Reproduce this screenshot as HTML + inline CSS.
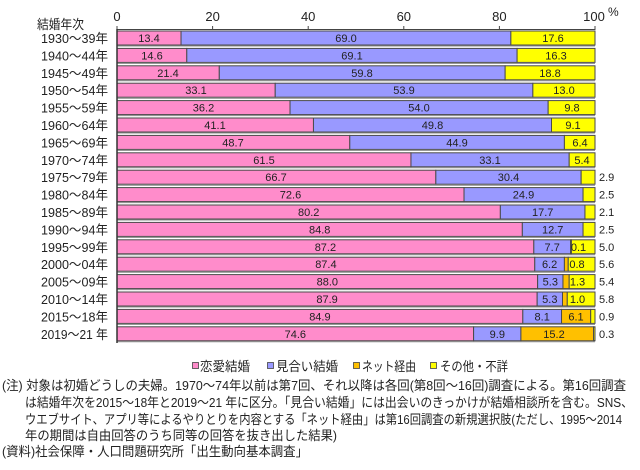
<!DOCTYPE html>
<html><head><meta charset="utf-8"><style>
html,body{margin:0;padding:0;background:#fff;}
svg{display:block;}
text{font-family:"Liberation Sans","Noto Sans CJK JP",sans-serif;}
</style></head><body>
<svg width="640" height="470" viewBox="0 0 640 470" xmlns="http://www.w3.org/2000/svg">
<rect width="640" height="470" fill="#fff"/>
<!-- top axis -->
<g stroke="#444" stroke-width="1">
<line x1="117" y1="29.5" x2="595" y2="29.5"/>
<line x1="117" y1="26" x2="117" y2="30"/>
<line x1="212.6" y1="26" x2="212.6" y2="30"/>
<line x1="308.2" y1="26" x2="308.2" y2="30"/>
<line x1="403.8" y1="26" x2="403.8" y2="30"/>
<line x1="499.4" y1="26" x2="499.4" y2="30"/>
<line x1="595" y1="26" x2="595" y2="30"/>
</g>
<g font-size="13" fill="#222" text-anchor="middle">
<text x="117" y="21">0</text>
<text x="212.6" y="21">20</text>
<text x="308.2" y="21">40</text>
<text x="403.8" y="21">60</text>
<text x="499.4" y="21">80</text>
<text x="594" y="21">100</text>
</g>
<text x="608" y="16" font-size="12" fill="#222">%</text>
<text x="37" y="29" font-size="13" fill="#222" textLength="47" lengthAdjust="spacingAndGlyphs">結婚年次</text>

<!-- row labels -->
<g font-size="13" fill="#222">
<text x="41" y="43" textLength="67" lengthAdjust="spacingAndGlyphs">1930〜39年</text>
<text x="41" y="60.4" textLength="67" lengthAdjust="spacingAndGlyphs">1940〜44年</text>
<text x="41" y="77.8" textLength="67" lengthAdjust="spacingAndGlyphs">1945〜49年</text>
<text x="41" y="95.2" textLength="67" lengthAdjust="spacingAndGlyphs">1950〜54年</text>
<text x="41" y="112.6" textLength="67" lengthAdjust="spacingAndGlyphs">1955〜59年</text>
<text x="41" y="130" textLength="67" lengthAdjust="spacingAndGlyphs">1960〜64年</text>
<text x="41" y="147.4" textLength="67" lengthAdjust="spacingAndGlyphs">1965〜69年</text>
<text x="41" y="164.8" textLength="67" lengthAdjust="spacingAndGlyphs">1970〜74年</text>
<text x="41" y="182.2" textLength="67" lengthAdjust="spacingAndGlyphs">1975〜79年</text>
<text x="41" y="199.6" textLength="67" lengthAdjust="spacingAndGlyphs">1980〜84年</text>
<text x="41" y="217" textLength="67" lengthAdjust="spacingAndGlyphs">1985〜89年</text>
<text x="41" y="234.4" textLength="67" lengthAdjust="spacingAndGlyphs">1990〜94年</text>
<text x="41" y="251.8" textLength="67" lengthAdjust="spacingAndGlyphs">1995〜99年</text>
<text x="41" y="269.2" textLength="67" lengthAdjust="spacingAndGlyphs">2000〜04年</text>
<text x="41" y="286.6" textLength="67" lengthAdjust="spacingAndGlyphs">2005〜09年</text>
<text x="41" y="304" textLength="67" lengthAdjust="spacingAndGlyphs">2010〜14年</text>
<text x="41" y="321.4" textLength="67" lengthAdjust="spacingAndGlyphs">2015〜18年</text>
<text x="41" y="338.8" textLength="67" lengthAdjust="spacingAndGlyphs">2019〜21 年</text>
</g>

<!-- bars -->
<g stroke="#4a4a4a" stroke-width="1">
<!-- row0 y=31 -->
<rect x="117" y="31" width="64.05" height="14" fill="#FF8CCB"/>
<rect x="181.05" y="31" width="329.82" height="14" fill="#9999FF"/>
<rect x="510.87" y="31" width="84.13" height="14" fill="#FFFF00"/>
<!-- row1 -->
<rect x="117" y="48.4" width="69.79" height="14" fill="#FF8CCB"/>
<rect x="186.79" y="48.4" width="330.3" height="14" fill="#9999FF"/>
<rect x="517.09" y="48.4" width="77.91" height="14" fill="#FFFF00"/>
<!-- row2 -->
<rect x="117" y="65.8" width="102.29" height="14" fill="#FF8CCB"/>
<rect x="219.29" y="65.8" width="285.85" height="14" fill="#9999FF"/>
<rect x="505.14" y="65.8" width="89.86" height="14" fill="#FFFF00"/>
<!-- row3 -->
<rect x="117" y="83.2" width="158.22" height="14" fill="#FF8CCB"/>
<rect x="275.22" y="83.2" width="257.64" height="14" fill="#9999FF"/>
<rect x="532.86" y="83.2" width="62.14" height="14" fill="#FFFF00"/>
<!-- row4 -->
<rect x="117" y="100.6" width="173.04" height="14" fill="#FF8CCB"/>
<rect x="290.04" y="100.6" width="258.12" height="14" fill="#9999FF"/>
<rect x="548.16" y="100.6" width="46.84" height="14" fill="#FFFF00"/>
<!-- row5 -->
<rect x="117" y="118" width="196.46" height="14" fill="#FF8CCB"/>
<rect x="313.46" y="118" width="238.04" height="14" fill="#9999FF"/>
<rect x="551.5" y="118" width="43.5" height="14" fill="#FFFF00"/>
<!-- row6 -->
<rect x="117" y="135.4" width="232.79" height="14" fill="#FF8CCB"/>
<rect x="349.79" y="135.4" width="214.62" height="14" fill="#9999FF"/>
<rect x="564.41" y="135.4" width="30.59" height="14" fill="#FFFF00"/>
<!-- row7 -->
<rect x="117" y="152.8" width="293.97" height="14" fill="#FF8CCB"/>
<rect x="410.97" y="152.8" width="158.22" height="14" fill="#9999FF"/>
<rect x="569.19" y="152.8" width="25.81" height="14" fill="#FFFF00"/>
<!-- row8 -->
<rect x="117" y="170.2" width="318.83" height="14" fill="#FF8CCB"/>
<rect x="435.83" y="170.2" width="145.31" height="14" fill="#9999FF"/>
<rect x="581.14" y="170.2" width="13.86" height="14" fill="#FFFF00"/>
<!-- row9 -->
<rect x="117" y="187.6" width="347.03" height="14" fill="#FF8CCB"/>
<rect x="464.03" y="187.6" width="119.02" height="14" fill="#9999FF"/>
<rect x="583.05" y="187.6" width="11.95" height="14" fill="#FFFF00"/>
<!-- row10 -->
<rect x="117" y="205" width="383.36" height="14" fill="#FF8CCB"/>
<rect x="500.36" y="205" width="84.6" height="14" fill="#9999FF"/>
<rect x="584.96" y="205" width="10.04" height="14" fill="#FFFF00"/>
<!-- row11 -->
<rect x="117" y="222.4" width="405.34" height="14" fill="#FF8CCB"/>
<rect x="522.34" y="222.4" width="60.71" height="14" fill="#9999FF"/>
<rect x="583.05" y="222.4" width="11.95" height="14" fill="#FFFF00"/>
<!-- row12 -->
<rect x="117" y="239.8" width="416.82" height="14" fill="#FF8CCB"/>
<rect x="533.82" y="239.8" width="36.8" height="14" fill="#9999FF"/>
<rect x="570.62" y="239.8" width="0.8" height="14" fill="#FFC000"/>
<rect x="571.42" y="239.8" width="23.58" height="14" fill="#FFFF00"/>
<!-- row13 -->
<rect x="117" y="257.2" width="417.77" height="14" fill="#FF8CCB"/>
<rect x="534.77" y="257.2" width="29.64" height="14" fill="#9999FF"/>
<rect x="564.41" y="257.2" width="3.82" height="14" fill="#FFC000"/>
<rect x="568.23" y="257.2" width="26.77" height="14" fill="#FFFF00"/>
<!-- row14 -->
<rect x="117" y="274.6" width="420.64" height="14" fill="#FF8CCB"/>
<rect x="537.64" y="274.6" width="25.33" height="14" fill="#9999FF"/>
<rect x="562.97" y="274.6" width="6.22" height="14" fill="#FFC000"/>
<rect x="569.19" y="274.6" width="25.81" height="14" fill="#FFFF00"/>
<!-- row15 -->
<rect x="117" y="292" width="420.16" height="14" fill="#FF8CCB"/>
<rect x="537.16" y="292" width="25.34" height="14" fill="#9999FF"/>
<rect x="562.5" y="292" width="4.78" height="14" fill="#FFC000"/>
<rect x="567.28" y="292" width="27.72" height="14" fill="#FFFF00"/>
<!-- row16 -->
<rect x="117" y="309.4" width="405.82" height="14" fill="#FF8CCB"/>
<rect x="522.82" y="309.4" width="38.72" height="14" fill="#9999FF"/>
<rect x="561.54" y="309.4" width="29.16" height="14" fill="#FFC000"/>
<rect x="590.7" y="309.4" width="4.3" height="14" fill="#FFFF00"/>
<!-- row17 -->
<rect x="117" y="326.8" width="356.59" height="14" fill="#FF8CCB"/>
<rect x="473.59" y="326.8" width="47.32" height="14" fill="#9999FF"/>
<rect x="520.91" y="326.8" width="72.66" height="14" fill="#FFC000"/>
<rect x="593.57" y="326.8" width="1.43" height="14" fill="#FFFF00"/>
</g>
<!-- bar shadows -->
<g stroke="#8a8a8a" stroke-width="1">
<line x1="117" y1="46" x2="595" y2="46"/>
<line x1="117" y1="63.4" x2="595" y2="63.4"/>
<line x1="117" y1="80.8" x2="595" y2="80.8"/>
<line x1="117" y1="98.2" x2="595" y2="98.2"/>
<line x1="117" y1="115.6" x2="595" y2="115.6"/>
<line x1="117" y1="133" x2="595" y2="133"/>
<line x1="117" y1="150.4" x2="595" y2="150.4"/>
<line x1="117" y1="167.8" x2="595" y2="167.8"/>
<line x1="117" y1="185.2" x2="595" y2="185.2"/>
<line x1="117" y1="202.6" x2="595" y2="202.6"/>
<line x1="117" y1="220" x2="595" y2="220"/>
<line x1="117" y1="237.4" x2="595" y2="237.4"/>
<line x1="117" y1="254.8" x2="595" y2="254.8"/>
<line x1="117" y1="272.2" x2="595" y2="272.2"/>
<line x1="117" y1="289.6" x2="595" y2="289.6"/>
<line x1="117" y1="307" x2="595" y2="307"/>
<line x1="117" y1="324.4" x2="595" y2="324.4"/>
<line x1="117" y1="341.8" x2="595" y2="341.8"/>
</g>
<!-- left axis -->
<line x1="117" y1="29" x2="117" y2="343" stroke="#333" stroke-width="1.5"/>

<!-- value labels -->
<g font-size="11" fill="#222" text-anchor="middle">
<text x="149" y="42">13.4</text><text x="346" y="42">69.0</text><text x="553" y="42">17.6</text>
<text x="152" y="59.4">14.6</text><text x="352" y="59.4">69.1</text><text x="556" y="59.4">16.3</text>
<text x="168" y="76.8">21.4</text><text x="362" y="76.8">59.8</text><text x="550" y="76.8">18.8</text>
<text x="196" y="94.2">33.1</text><text x="404" y="94.2">53.9</text><text x="564" y="94.2">13.0</text>
<text x="203.5" y="111.6">36.2</text><text x="419" y="111.6">54.0</text><text x="572" y="111.6">9.8</text>
<text x="215" y="129">41.1</text><text x="432.5" y="129">49.8</text><text x="573" y="129">9.1</text>
<text x="233" y="146.4">48.7</text><text x="457" y="146.4">44.9</text><text x="580" y="146.4">6.4</text>
<text x="264" y="163.8">61.5</text><text x="490" y="163.8">33.1</text><text x="582" y="163.8">5.4</text>
<text x="276" y="181.2">66.7</text><text x="508.5" y="181.2">30.4</text>
<text x="290.5" y="198.6">72.6</text><text x="523.5" y="198.6">24.9</text>
<text x="308.7" y="216">80.2</text><text x="542.7" y="216">17.7</text>
<text x="319.7" y="233.4">84.8</text><text x="552.7" y="233.4">12.7</text>
<text x="325.4" y="250.8">87.2</text><text x="552.2" y="250.8">7.7</text><text x="578.5" y="250.8">0.1</text>
<text x="325.9" y="268.2">87.4</text><text x="549.6" y="268.2">6.2</text><text x="577" y="268.2">0.8</text>
<text x="327.3" y="285.6">88.0</text><text x="550.3" y="285.6">5.3</text><text x="577.5" y="285.6">1.3</text>
<text x="327.1" y="303">87.9</text><text x="549.8" y="303">5.3</text><text x="577.5" y="303">1.0</text>
<text x="319.9" y="320.4">84.9</text><text x="542.2" y="320.4">8.1</text><text x="576" y="320.4">6.1</text>
<text x="295.3" y="337.8">74.6</text><text x="497.3" y="337.8">9.9</text><text x="554" y="337.8">15.2</text>
</g>
<g font-size="11" fill="#222">
<text x="599" y="181.2">2.9</text>
<text x="599" y="198.6">2.5</text>
<text x="599" y="216">2.1</text>
<text x="599" y="233.4">2.5</text>
<text x="599" y="250.8">5.0</text>
<text x="599" y="268.2">5.6</text>
<text x="599" y="285.6">5.4</text>
<text x="599" y="303">5.8</text>
<text x="599" y="320.4">0.9</text>
<text x="599" y="337.8">0.3</text>
</g>

<!-- legend -->
<g stroke="#444" stroke-width="0.8">
<rect x="192.5" y="362.5" width="6" height="6" fill="#FF8CCB"/>
<rect x="267.5" y="362.5" width="6" height="6" fill="#9999FF"/>
<rect x="353.5" y="362.5" width="6" height="6" fill="#FFC000"/>
<rect x="430.5" y="362.5" width="6" height="6" fill="#FFFF00"/>
</g>
<g font-size="13" fill="#222">
<text x="200" y="371" textLength="50" lengthAdjust="spacingAndGlyphs">恋愛結婚</text>
<text x="276" y="371" textLength="62" lengthAdjust="spacingAndGlyphs">見合い結婚</text>
<text x="362" y="371" textLength="54" lengthAdjust="spacingAndGlyphs">ネット経由</text>
<text x="440" y="371" textLength="68" lengthAdjust="spacingAndGlyphs">その他・不詳</text>
</g>

<!-- notes -->
<g font-size="13" fill="#222">
<text x="2" y="390" textLength="624" lengthAdjust="spacingAndGlyphs">(注) 対象は初婚どうしの夫婦。1970〜74年以前は第7回、それ以降は各回(第8回〜16回)調査による。第16回調査</text>
<text x="25" y="407" textLength="608" lengthAdjust="spacingAndGlyphs">は結婚年次を2015〜18年と2019〜21 年に区分。「見合い結婚」には出会いのきっかけが結婚相談所を含む。SNS、</text>
<text x="25" y="424" textLength="597" lengthAdjust="spacingAndGlyphs">ウエブサイト、アプリ等によるやりとりを内容とする「ネット経由」は第16回調査の新規選択肢(ただし、1995〜2014</text>
<text x="25" y="440" textLength="312" lengthAdjust="spacingAndGlyphs">年の期間は自由回答のうち同等の回答を抜き出した結果)</text>
<text x="2" y="456" textLength="306" lengthAdjust="spacingAndGlyphs">(資料)社会保障・人口問題研究所「出生動向基本調査」</text>
</g>
</svg>
</body></html>
